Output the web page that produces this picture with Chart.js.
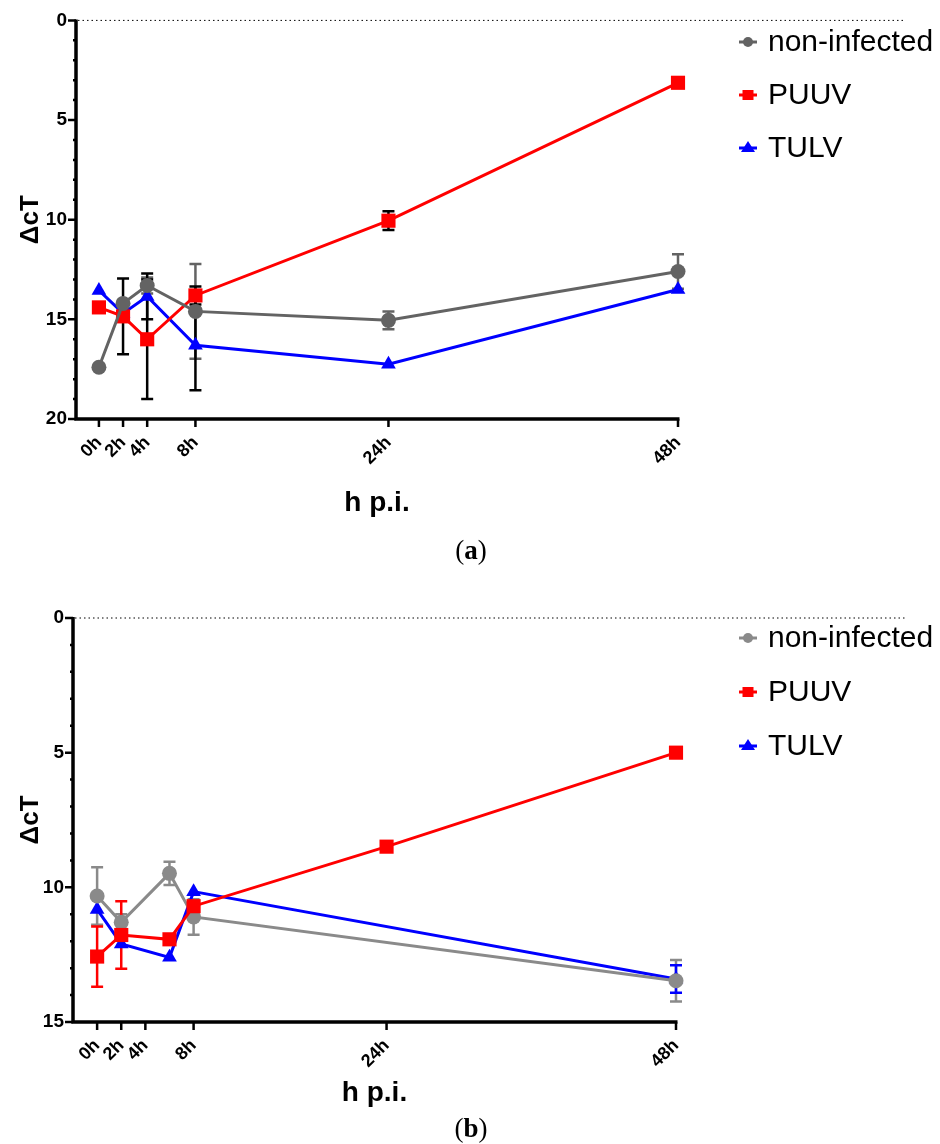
<!DOCTYPE html>
<html>
<head>
<meta charset="utf-8">
<script src="https://cdn.jsdelivr.net/npm/chart.js@4"></script>
<style>
  body { margin: 0; background: #fff; }
  canvas { display: block; }
</style>
</head>
<body>
<canvas id="chartA" width="940" height="580"></canvas>
<canvas id="chartB" width="940" height="564"></canvas>
<script>
// ---- data ----
const hourTicks = [0, 2, 4, 8, 24, 48];
const seriesNames = ['non-infected', 'PUUV', 'TULV'];

// panel (a)
const hoursA = [0, 2, 4, 8, 24, 48];
const nonInfectedA = [17.4, 14.2, 13.3, 14.6, 15.05, 12.6];
const nonInfectedErrA = [0, 0, 0.4, 2.38, 0.45, 0.87];
const puuvA = [14.4, 14.85, 16.0, 13.8, 10.05, 3.13];
const puuvErrA = [0, 1.9, 3.0, 0.45, 0.47, 0];
const tulvA = [13.55, 14.7, 13.85, 16.3, 17.25, 13.5];
const tulvErrA = [0, 0, 1.15, 2.26, 0, 0];

// panel (b)
const hoursNonB = [0, 2, 6, 8, 48];
const nonInfectedB = [10.32, 11.3, 9.48, 11.1, 13.47];
const nonInfectedErrB = [1.07, 0.3, 0.43, 0.66, 0.77];
const hoursPuuvB = [0, 2, 6, 8, 24, 48];
const puuvB = [12.57, 11.77, 11.93, 10.7, 8.49, 5.0];
const puuvErrB = [1.12, 1.25, 0, 0, 0, 0];
const hoursTulvB = [0, 2, 6, 8, 48];
const tulvB = [10.82, 12.1, 12.6, 10.16, 13.4];
const tulvErrB = [0, 0, 0, 0, 0.51];

Chart.defaults.font.family = '"Liberation Sans", Arial, sans-serif';
Chart.defaults.color = '#000';

const RED = '#ff0000';
const BLUE = '#0000ff';

function pts(xs, ys) {
  return xs.map((x, i) => ({ x: x, y: ys[i] }));
}

function makeSet(label, xs, ys, errs, color, errColor, style, radius, order) {
  return {
    label: label,
    data: pts(xs, ys),
    errors: errs,
    errorColor: errColor,
    borderColor: color,
    backgroundColor: color,
    borderWidth: 3,
    pointStyle: style,
    pointRadius: radius,
    pointHoverRadius: radius,
    pointBorderWidth: 0,
    pointBackgroundColor: color,
    tension: 0,
    clip: false,
    order: order
  };
}

// error bars under the marks
const errorBars = {
  id: 'errorBars',
  beforeDatasetsDraw(chart) {
    const { ctx, scales: { x, y } } = chart;
    ctx.save();
    ctx.lineWidth = 2.5;
    chart.data.datasets.forEach(ds => {
      ctx.strokeStyle = ds.errorColor;
      ds.data.forEach((p, j) => {
        const e = ds.errors[j];
        if (!e) return;
        const px = x.getPixelForValue(p.x);
        const y1 = y.getPixelForValue(p.y - e);
        const y2 = y.getPixelForValue(p.y + e);
        ctx.beginPath();
        ctx.moveTo(px, y1); ctx.lineTo(px, y2);
        ctx.moveTo(px - 6, y1); ctx.lineTo(px + 6, y1);
        ctx.moveTo(px - 6, y2); ctx.lineTo(px + 6, y2);
        ctx.stroke();
      });
    });
    ctx.restore();
  }
};

function drawMarker(ctx, style, cx, cy, color) {
  ctx.fillStyle = color;
  ctx.strokeStyle = color;
  ctx.lineWidth = 3;
  ctx.beginPath();
  ctx.moveTo(cx - 9, cy); ctx.lineTo(cx + 9, cy);
  ctx.stroke();
  ctx.beginPath();
  if (style === 'circle') {
    ctx.arc(cx, cy, 5, 0, Math.PI * 2);
  } else if (style === 'rect') {
    ctx.rect(cx - 5.5, cy - 5, 11, 10);
  } else {
    ctx.moveTo(cx, cy - 7); ctx.lineTo(cx + 7, cy + 4); ctx.lineTo(cx - 7, cy + 4); ctx.closePath();
  }
  ctx.fill();
}

// axes, ticks, dotted zero line, legend, panel label
const decor = {
  id: 'decor',
  afterDraw(chart, args, opts) {
    const { ctx, chartArea: a, scales: { x, y } } = chart;
    ctx.save();
    // dotted zero line
    const y0 = y.getPixelForValue(0);
    ctx.strokeStyle = '#000';
    ctx.lineWidth = 1;
    ctx.setLineDash([1.5, 3]);
    ctx.beginPath();
    ctx.moveTo(a.left + 2, y0); ctx.lineTo(opts.dotEnd, y0);
    ctx.stroke();
    ctx.setLineDash([]);
    // axis lines
    ctx.lineWidth = 3.5;
    ctx.beginPath();
    ctx.moveTo(a.left, a.top - 1);
    ctx.lineTo(a.left, a.bottom);
    ctx.lineTo(a.right + 1.5, a.bottom);
    ctx.stroke();
    // y ticks
    ctx.lineWidth = 2.5;
    ctx.beginPath();
    for (let v = y.min; v <= y.max; v++) {
      const py = y.getPixelForValue(v);
      const len = v % 5 === 0 ? 8 : 3;
      ctx.moveTo(a.left, py); ctx.lineTo(a.left - len, py);
    }
    // x ticks
    hourTicks.forEach(h => {
      const px = x.getPixelForValue(h);
      ctx.moveTo(px, a.bottom); ctx.lineTo(px, a.bottom + 8);
    });
    ctx.stroke();
    // legend
    chart.data.datasets.forEach((ds, i) => {
      const ly = opts.legendY[i];
      drawMarker(ctx, ds.pointStyle, 748, ly, ds.borderColor);
      ctx.fillStyle = '#000';
      ctx.font = '30px "Liberation Sans", Arial, sans-serif';
      ctx.textBaseline = 'middle';
      ctx.textAlign = 'left';
      ctx.fillText(ds.label, 768, ly + 1);
    });
    // panel label "(a)" with bold letter
    ctx.textBaseline = 'middle';
    const reg = '27px "Liberation Serif", "DejaVu Serif", serif';
    const bold = 'bold 27px "Liberation Serif", "DejaVu Serif", serif';
    ctx.font = reg; const w1 = ctx.measureText('(').width;
    ctx.font = bold; const w2 = ctx.measureText(opts.panel).width;
    let lx = 471 - (w1 * 2 + w2) / 2;
    ctx.font = reg; ctx.fillText('(', lx, opts.panelY); lx += w1;
    ctx.font = bold; ctx.fillText(opts.panel, lx, opts.panelY); lx += w2;
    ctx.font = reg; ctx.fillText(')', lx, opts.panelY);
    ctx.restore();
  }
};

function buildChart(id, datasets, cfg) {
  return new Chart(document.getElementById(id), {
    type: 'line',
    data: { datasets: datasets },
    plugins: [errorBars, decor],
    options: {
      responsive: false,
      animation: false,
      layout: { padding: { top: cfg.padTop, right: cfg.padRight, bottom: cfg.padBottom, left: 0 } },
      plugins: {
        legend: { display: false },
        tooltip: { enabled: false },
        decor: { legendY: cfg.legendY, dotEnd: 905, panel: cfg.panel, panelY: cfg.panelY }
      },
      scales: {
        x: {
          type: 'linear',
          min: cfg.xMin,
          max: 48,
          afterBuildTicks: s => { s.ticks = hourTicks.map(v => ({ value: v })); },
          ticks: {
            autoSkip: false,
            minRotation: 45,
            maxRotation: 45,
            padding: 13,
            font: { size: 18, weight: 'bold' },
            color: '#000',
            callback: v => v + 'h'
          },
          grid: { display: false, drawTicks: false },
          border: { display: false },
          title: {
            display: true,
            text: 'h p.i.',
            font: { size: 28, weight: 'bold' },
            color: '#000',
            padding: { top: 0, bottom: 0 }
          },
          afterFit: s => { s.height = cfg.xHeight; }
        },
        y: {
          type: 'linear',
          reverse: true,
          min: 0,
          max: cfg.yMax,
          ticks: {
            stepSize: 5,
            padding: 9,
            font: { size: 19, weight: 'bold' },
            color: '#000'
          },
          grid: { display: false, drawTicks: false },
          border: { display: false },
          title: {
            display: true,
            text: 'ΔcT',
            font: { size: 26, weight: 'bold' },
            color: '#000',
            padding: { top: 15, bottom: 0 }
          },
          afterFit: s => { s.width = cfg.yWidth; }
        }
      }
    }
  });
}

const GREY_A = '#636363';
buildChart('chartA', [
  makeSet(seriesNames[0], hoursA, nonInfectedA, nonInfectedErrA, GREY_A, GREY_A, 'circle', 7.5, 1),
  makeSet(seriesNames[1], hoursA, puuvA, puuvErrA, RED, '#000', 'rect', 10, 2),
  makeSet(seriesNames[2], hoursA, tulvA, tulvErrA, BLUE, '#000', 'triangle', 8.5, 3)
], {
  padTop: 15, padRight: 262, padBottom: 60, xHeight: 101,
  xMin: -1.9, yMax: 20, yWidth: 76,
  legendY: [42, 95, 148], panel: 'a', panelY: 552
});

const GREY_B = '#8a8a8a';
buildChart('chartB', [
  makeSet(seriesNames[0], hoursNonB, nonInfectedB, nonInfectedErrB, GREY_B, GREY_B, 'circle', 7.5, 2),
  makeSet(seriesNames[1], hoursPuuvB, puuvB, puuvErrB, RED, RED, 'rect', 10, 1),
  makeSet(seriesNames[2], hoursTulvB, tulvB, tulvErrB, BLUE, BLUE, 'triangle', 8.5, 3)
], {
  padTop: 38, padRight: 264, padBottom: 34, xHeight: 88,
  xMin: -2.0, yMax: 15, yWidth: 73,
  legendY: [58, 112, 166], panel: 'b', panelY: 550
});
</script>
</body>
</html>
